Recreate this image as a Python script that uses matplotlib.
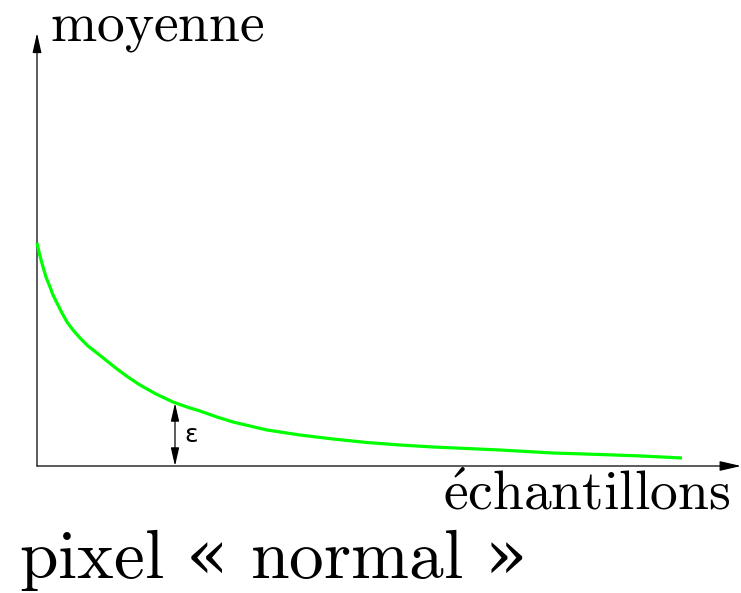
import matplotlib
matplotlib.use("Agg")
import matplotlib.pyplot as plt

plt.rcParams['font.family'] = ['DejaVu Serif']
plt.rcParams['mathtext.fontset'] = 'cm'

# curve samples (x: samples, y: mean), in axis units
samples = [0, 3, 6, 9, 13, 16, 20, 25, 30, 36, 43, 51, 60, 70, 80, 91, 103, 119, 136, 150, 163, 180, 196, 213, 230, 263, 296, 330, 363, 396, 430, 463, 516, 563, 605, 645]
mean = [223, 210, 199, 189, 179, 171, 163, 153, 144, 136, 128, 120, 113, 105, 97, 89, 81, 72, 64, 59, 55, 49, 44, 40, 36, 31, 27, 23.5, 21, 19, 17.5, 16, 13, 11.5, 10, 8]
eps_x = 138
eps_top = 63

x_label = r"$\mathrm{\acute{e}chantillons}$"
y_label = r"$\mathrm{moyenne}$"
title = r"$\mathrm{pixel}$ « $\mathrm{normal}$ »"
eps_label = "ε"

fig = plt.figure(figsize=(7.41, 5.93), dpi=100)
ax = fig.add_axes([0, 0, 1, 1])
ax.set_xlim(-37, 704)
ax.set_ylim(-127, 466)
ax.axis('off')

# axes with arrows
ax.annotate('', xy=(704, 0), xytext=(0, 0),
            arrowprops=dict(arrowstyle='-|>,head_length=1.3,head_width=0.3', lw=0.9, color='black',
                            shrinkA=0, shrinkB=0))
ax.annotate('', xy=(0, 433), xytext=(0, 0),
            arrowprops=dict(arrowstyle='-|>,head_length=1.2,head_width=0.27', lw=0.9, color='black',
                            shrinkA=0, shrinkB=0))

ax.plot(samples, mean, color='#00ff00', lw=2.3, solid_capstyle='butt', solid_joinstyle='round', zorder=3)

ax.annotate('', xy=(eps_x, eps_top), xytext=(eps_x, 0),
            arrowprops=dict(arrowstyle='<|-|>,head_length=1.1,head_width=0.25', lw=0.9, color='black',
                            shrinkA=0, shrinkB=0))
ax.text(eps_x + 9, 31, eps_label, fontsize=18, family='DejaVu Sans', va='center', ha='left')

ax.text(13, 425, y_label, fontsize=40, ha='left', va='baseline')
ax.text(693, -44, x_label, fontsize=40, ha='right', va='baseline')
ax.text(-18, -112, title, fontsize=50, ha='left', va='baseline')

fig.savefig('out.png', dpi=100)
